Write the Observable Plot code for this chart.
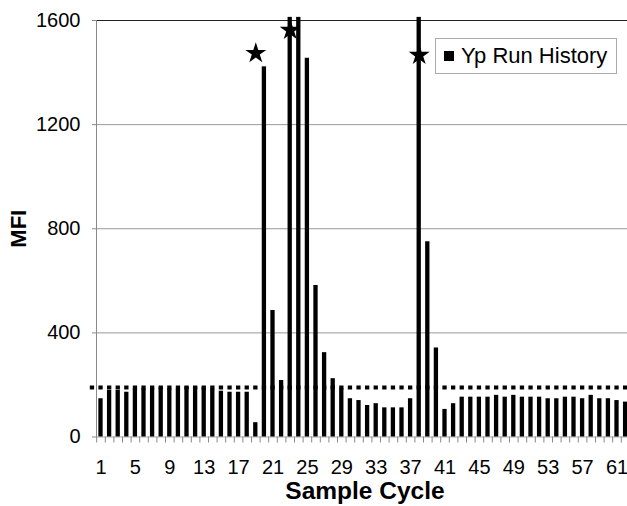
<!DOCTYPE html>
<html><head><meta charset="utf-8">
<script src="https://cdn.jsdelivr.net/npm/d3@7"></script>
<script src="https://cdn.jsdelivr.net/npm/@observablehq/plot@0.6"></script>
<style>
html,body{margin:0;padding:0;background:#fff;overflow:hidden;}
#wrap{position:relative;width:627px;height:506px;overflow:hidden;}
#legend{position:absolute;left:435px;top:38px;width:182px;height:36px;border:1px solid #aaa;background:#fff;box-sizing:border-box;font:22px "Liberation Sans",Arial,sans-serif;display:flex;align-items:center;white-space:nowrap;}
#legend .sw{display:inline-block;width:10px;height:10px;background:#000;margin-left:8px;margin-right:7px;}
</style>
</head><body><div id="wrap"><div id="legend"><span class="sw"></span><span>Yp Run History</span></div></div>
<script>
const cycles = [1,2,3,4,5,6,7,8,9,10,11,12,13,14,15,16,17,18,19,20,21,22,23,24,25,26,27,28,29,30,31,32,33,34,35,36,37,38,39,40,41,42,43,44,45,46,47,48,49,50,51,52,53,54,55,56,57,58,59,60,61,62];
const mfi = [147,179,179,172,183,185,185,189,185,183,192,192,189,183,176,172,172,172,55,1422,486,217,1612,1612,1455,582,324,224,185,147,140,121,128,112,112,112,147,1612,750,342,106,128,153,153,153,153,160,153,160,153,153,153,147,147,153,153,147,160,147,147,140,134];
const threshold = 190;
const starCycles = [19, 23, 38];
const starValues = [1474, 1563, 1467];
const xTickLabels = [1,5,9,13,17,21,25,29,33,37,41,45,49,53,57,61];
const yTicks = [0,400,800,1200,1600];
const yGrid = [400,800,1200];

const data = cycles.map((c, i) => ({cycle: c, mfi: mfi[i]}));
const stars = starCycles.map((c, i) => ({cycle: c, value: starValues[i]}));

const step = 8.6;
const x0 = 96.2;
const font = '"Liberation Sans", Arial, sans-serif';

const chart = Plot.plot({
  width: 627,
  height: 506,
  marginTop: 20,
  marginBottom: 69.5,
  marginLeft: 96,
  marginRight: 0,
  style: {fontFamily: font, fontSize: "20px", background: "white", color: "black", overflow: "hidden"},
  x: {type: "band", domain: cycles, range: [x0, x0 + step * cycles.length], paddingInner: 0.5, paddingOuter: 0.25, axis: null},
  y: {domain: [0, 1600], axis: null},
  marks: [
    Plot.ruleY(yGrid, {stroke: "#999", strokeWidth: 1}),
    Plot.ruleY([1600], {stroke: "#222", strokeWidth: 1}),
    Plot.ruleY([0], {stroke: "#aaa", strokeWidth: 1}),
    Plot.frame({anchor: "left", stroke: "#888"}),
    Plot.axisY({ticks: yTicks, tickSize: 4, fill: "none", stroke: "#888", label: null}),
    Plot.axisY({ticks: yTicks, tickSize: 0, tickPadding: 16, tickFormat: d => String(d), fill: "black", stroke: "none", label: null, fontSize: 20}),
    Plot.axisX({ticks: cycles, anchor: "bottom", tickSize: 6, fill: "none", stroke: "#888", dx: -step / 2, label: null}),
    Plot.barY(data, {x: "cycle", y: "mfi", fill: "black"}),
    Plot.ruleY([threshold], {stroke: "black", strokeWidth: 4, strokeDasharray: "4.3,4.3", insetLeft: -6.2}),
    Plot.dot(stars, {x: "cycle", y: "value", symbol: "star", r: 6.6, fill: "black", stroke: "none"}),
    Plot.text(xTickLabels, {x: d => d, frameAnchor: "bottom", dy: 30.5, lineAnchor: "middle", textAnchor: "middle", fontSize: 20, fill: "black"}),
    Plot.text(["Sample Cycle"], {frameAnchor: "bottom", dy: 54, dx: 3, lineAnchor: "middle", textAnchor: "middle", fontSize: 24.5, fontWeight: "bold", fill: "black"}),
    Plot.text(["MFI"], {frameAnchor: "left", dx: -78, rotate: -90, lineAnchor: "middle", textAnchor: "middle", fontSize: 22, fontWeight: "bold", fill: "black"})
  ]
});
document.getElementById("wrap").prepend(chart);
</script>
</body></html>
